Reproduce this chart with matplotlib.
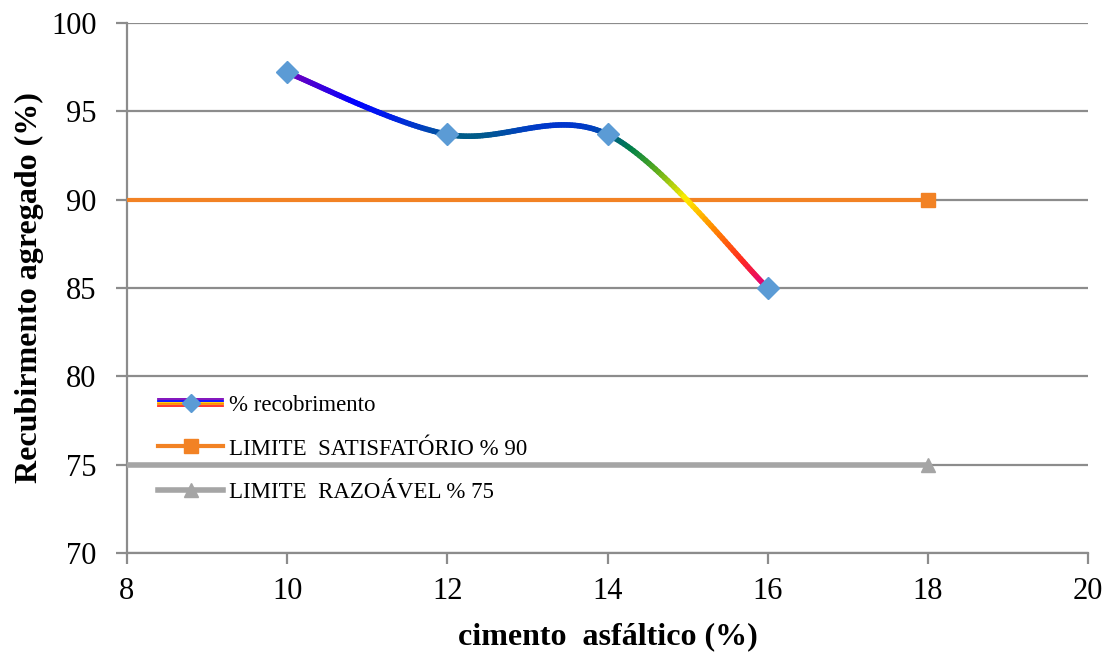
import numpy as np
import matplotlib
matplotlib.use("Agg")
import matplotlib.pyplot as plt
from matplotlib.collections import LineCollection
from matplotlib.colors import LinearSegmentedColormap
from matplotlib.legend_handler import HandlerBase
from matplotlib.lines import Line2D

plt.rcParams['font.family'] = ['Liberation Serif', 'DejaVu Serif']

# data
cimento = [10, 12, 14, 16]
recobrimento = [97.2, 93.7, 93.7, 85.0]
limite_x = [8, 18]
limite_satisfatorio = [90, 90]
limite_razoavel = [75, 75]

label_curva = '% recobrimento'
label_sat = 'LIMITE  SATISFATÓRIO % 90'
label_raz = 'LIMITE  RAZOÁVEL % 75'

marker_blue = '#5b9bd5'
orange = '#f28224'
gray = '#a5a5a5'
grid_gray = '#8c8c8c'

# rainbow gradient running from the bottom (magenta/red) to the top (purple)
rainbow = LinearSegmentedColormap.from_list('rainbow_line', [
    (0.00, '#e0007f'),
    (0.12, '#ff2a20'),
    (0.27, '#ff8a00'),
    (0.41, '#ffee00'),
    (0.55, '#50a820'),
    (0.64, '#008048'),
    (0.70, '#006080'),
    (0.74, '#0040c0'),
    (0.79, '#0020e8'),
    (0.86, '#0000ff'),
    (1.00, '#7800b8'),
])


def catmull_rom(xs, ys, n=60, tension=0.5):
    # smoothed path through the points, Excel-like
    xs = np.asarray(xs, float)
    ys = np.asarray(ys, float)
    px = np.concatenate([[xs[0]], xs, [xs[-1]]])
    py = np.concatenate([[ys[0]], ys, [ys[-1]]])
    outx, outy = [], []
    for i in range(1, len(px) - 2):
        p0, p1, p2, p3 = (np.array([px[j], py[j]]) for j in (i - 1, i, i + 1, i + 2))
        c1 = p1 + (p2 - p0) * tension / 3
        c2 = p2 - (p3 - p1) * tension / 3
        t = np.linspace(0, 1, n)[:, None]
        b = ((1 - t) ** 3) * p1 + 3 * ((1 - t) ** 2) * t * c1 + 3 * (1 - t) * t ** 2 * c2 + t ** 3 * p2
        if i > 1:
            b = b[1:]
        outx.extend(b[:, 0])
        outy.extend(b[:, 1])
    return np.array(outx), np.array(outy)


class RainbowHandler(HandlerBase):
    # striped legend key with the diamond marker in the middle
    def create_artists(self, legend, orig_handle, xdescent, ydescent,
                       width, height, fontsize, trans):
        cols = ['#7800b8', '#0000ff', '#ffcc00', '#ff8a00', '#ff2a20']
        artists = []
        for k, c in enumerate(cols):
            yk = height / 2 - ydescent + (2 - k) * 1.1
            artists.append(Line2D([-xdescent, width - xdescent], [yk, yk],
                                  color=c, lw=1.3, transform=trans))
        artists.append(Line2D([width / 2 - xdescent], [height / 2 - ydescent],
                              marker='D', color=marker_blue, markersize=9,
                              linestyle='none', transform=trans))
        return artists


fig = plt.figure(figsize=(11.08, 6.52), dpi=100)
ax = fig.add_axes([0.1146, 0.1518, 0.8674, 0.8129])

ax.set_xlim(8, 20)
ax.set_ylim(70, 100)
ax.set_xticks(np.arange(8, 21, 2))
ax.set_yticks(np.arange(70, 101, 5))

ax.yaxis.grid(True, color=grid_gray, linewidth=1.6)
ax.set_axisbelow(True)
for side in ['top', 'right']:
    ax.spines[side].set_visible(False)
for side in ['left', 'bottom']:
    ax.spines[side].set_color(grid_gray)
    ax.spines[side].set_linewidth(1.6)
ax.tick_params(axis='both', colors=grid_gray, width=1.6, length=8,
               labelsize=22, labelcolor='black')
ax.tick_params(axis='x', pad=9)
ax.tick_params(axis='y', pad=14)

# limit lines
ax.plot(limite_x, limite_razoavel, color=gray, lw=4, marker='^',
        markersize=10, markevery=[1], zorder=3, label=label_raz)
ax.plot(limite_x, limite_satisfatorio, color=orange, lw=3, marker='s',
        markersize=10, markevery=[1], zorder=3, label=label_sat)

# smoothed rainbow curve
sx, sy = catmull_rom(cimento, recobrimento)
pts = np.column_stack([sx, sy]).reshape(-1, 1, 2)
segs = np.concatenate([pts[:-1], pts[1:]], axis=1)
lc = LineCollection(segs, cmap=rainbow, norm=plt.Normalize(85, 97.2),
                    linewidth=4, capstyle='round', zorder=4)
lc.set_array((sy[:-1] + sy[1:]) / 2)
ax.add_collection(lc)
curve, = ax.plot(cimento, recobrimento, linestyle='none', marker='D',
                 color=marker_blue, markersize=11, zorder=5, label=label_curva)

handles = [curve, ax.lines[1], ax.lines[0]]
labels = [label_curva, label_sat, label_raz]
ax.legend(handles, labels, loc='upper left', bbox_to_anchor=(0.011, 0.338),
          frameon=False, fontsize=16.5, handlelength=2.85, handletextpad=0.25,
          labelspacing=1.0, handler_map={curve: RainbowHandler()})

ax.set_xlabel('cimento  asfáltico (%)', fontsize=23, fontweight='bold', labelpad=12)
ax.set_ylabel('Recubirmento agregado (%)', fontsize=23, fontweight='bold', labelpad=5)

fig.savefig('out.png', dpi=100)
